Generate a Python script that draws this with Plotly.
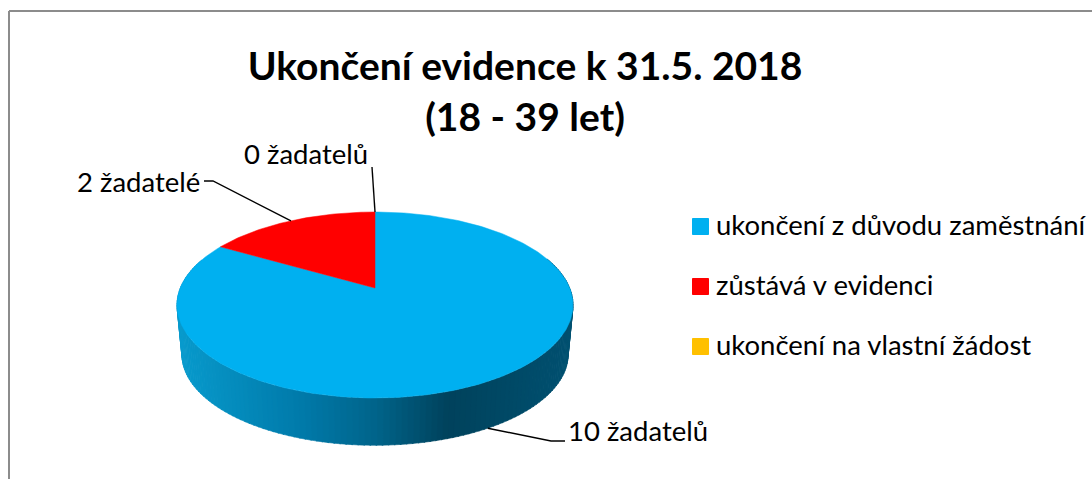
import math
import plotly.graph_objects as go

# ---- data ----
categories = ["ukončení z důvodu zaměstnání", "zůstává v evidenci", "ukončení na vlastní žádost"]
values = [10, 2, 0]
labels = ["10 žadatelů", "2 žadatelé", "0 žadatelů"]
colors = ["#00B0F0", "#FF0000", "#FFC000"]
title_text = "<b>Ukončení evidence k 31.5. 2018<br>(18 - 39 let)</b>"

FONT = "Lato"
W, H = 1092, 479

# ---- perspective disk geometry (pixel-like axes) ----
CX, CY = 375, 288
A, B, K = 89.9, 194.7, 0.1828
DEPTH, SHRINK = 50, 0.975


def project(theta_deg, lower=False):
    t = math.radians(theta_deg)
    u, v = math.sin(t), math.cos(t)
    d = 1 + K * v
    s = SHRINK if lower else 1
    return CX + s * B * u / d, CY + (DEPTH if lower else 0) - s * A * v / d


def mix(stops, x):
    for (x0, c0), (x1, c1) in zip(stops, stops[1:]):
        if x <= x1:
            f = max(0, (x - x0) / (x1 - x0))
            return "rgb(%d,%d,%d)" % tuple(round(a + (b - a) * f) for a, b in zip(c0, c1))
    return "rgb(%d,%d,%d)" % stops[-1][1]


wall_stops = [(180, (8, 154, 204)), (300, (0, 122, 170)), (375, (0, 100, 138)),
              (447, (0, 66, 92)), (570, (0, 80, 112))]

fig = go.Figure()

# side wall, drawn under the top face
step = 1.5
n = int(220 / step)
for i in range(n):
    t0 = 70 + i * step
    t1 = t0 + step + 0.3
    pts = [project(t0), project(t1), project(t1, True), project(t0, True)]
    xs = [p[0] for p in pts] + [pts[0][0]]
    ys = [p[1] for p in pts] + [pts[0][1]]
    col = mix(wall_stops, sum(xs[:4]) / 4)
    fig.add_trace(go.Scatter(x=xs, y=ys, mode="lines", fill="toself", fillcolor=col,
                             line=dict(color=col, width=0.6), showlegend=False, hoverinfo="skip"))

# top face: slices from the values
total = sum(values)
angle = 0
mids = []
for val, col in zip(values, colors):
    sweep = 360 * val / total
    m = max(2, int(sweep))
    rim = [project(angle + sweep * j / m) for j in range(m + 1)]
    xs = [CX] + [p[0] for p in rim] + [CX]
    ys = [CY] + [p[1] for p in rim] + [CY]
    if val > 0:
        fig.add_trace(go.Scatter(x=xs, y=ys, mode="lines", fill="toself", fillcolor=col,
                                 line=dict(color=col, width=0.5), showlegend=False, hoverinfo="skip"))
    mids.append(angle + sweep / 2)
    angle += sweep

# leader lines, each starting at its slice's middle
elbows = [[(551, 441), (565, 441)], [(213, 181), (204, 181)], [(372, 167)]]
label_pos = [(566, 430, "left"), (201.5, 181, "right"), (370, 153, "right")]
for idx, mid in enumerate(mids):
    sx, sy = project(mid, lower=(idx == 0))
    lx = [sx] + [e[0] for e in elbows[idx]]
    ly = [sy] + [e[1] for e in elbows[idx]]
    fig.add_trace(go.Scatter(x=lx, y=ly, mode="lines", line=dict(color="black", width=1.4),
                             showlegend=False, hoverinfo="skip"))
    fig.add_annotation(x=label_pos[idx][0], y=label_pos[idx][1], text=labels[idx], showarrow=False,
                       xanchor=label_pos[idx][2], yanchor="middle", xref="x", yref="y",
                       font=dict(family=FONT, size=27.5, color="black"))

# legend: square swatch with its text, one row per category
legend_x, legend_y0, legend_dy = 700.5, 226.5, 60
legend_text_x, legend_text_dy = 716, 1.5
legend_rows = [legend_y0 + i * legend_dy for i in range(len(categories))]
fig.add_trace(go.Scatter(
    x=[legend_x] * len(categories), y=legend_rows, mode="markers",
    marker=dict(symbol="square", size=16, color=colors, line=dict(color=colors, width=1)),
    showlegend=False, hoverinfo="skip", cliponaxis=False))
fig.add_trace(go.Scatter(
    x=[legend_text_x] * len(categories), y=[r + legend_text_dy for r in legend_rows],
    mode="text", text=categories, textposition="middle right",
    textfont=dict(family=FONT, size=27.5, color="black"),
    showlegend=False, hoverinfo="skip", cliponaxis=False))

# frame
frame = dict(type="line", xref="x", yref="y", line=dict(color="#8C8C8C", width=2))
shapes = [dict(frame, x0=9, x1=9, y0=H, y1=11), dict(frame, x0=9, x1=W, y0=11, y1=11)]

fig.update_layout(
    width=W, height=H, autosize=False,
    margin=dict(l=0, r=0, t=0, b=0),
    paper_bgcolor="white", plot_bgcolor="white",
    hovermode=False, showlegend=False,
    shapes=shapes,
    title=dict(text=title_text, x=525 / W, xanchor="center", y=1 - 80 / H, yanchor="top",
               font=dict(family=FONT, size=39, color="black")),
    xaxis=dict(range=[0, W], visible=False, fixedrange=True),
    yaxis=dict(range=[H, 0], visible=False, fixedrange=True),
)

fig.write_html("out.html", config={"displayModeBar": False},
               post_script="document.body.style.margin='0';")
